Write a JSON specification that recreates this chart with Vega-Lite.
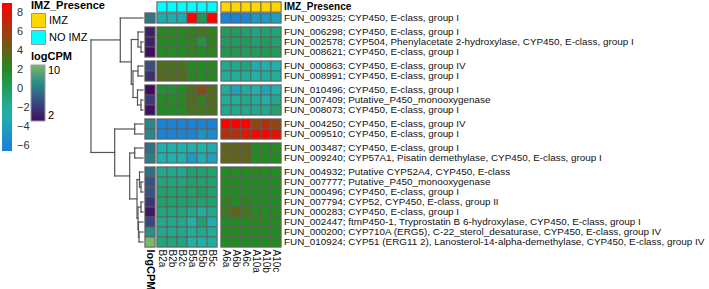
{
  "$schema": "https://vega.github.io/schema/vega-lite/v6.json",
  "width": 709,
  "height": 289,
  "padding": 0,
  "autosize": {"type": "none"},
  "config": {"font": "Liberation Sans", "view": {"stroke": null}},
  "datasets": {
    "genes": [
      {"id": "FUN_009325; CYP450, E-class, group I", "ord": 0, "grp": 0, "logCPM": 6.5, "B2a": -3, "B2b": -3, "B2c": -3, "B5a": 8.8, "B5b": 0.5, "B5c": 8.8, "A6a": -6.3, "A6b": -6.3, "A6c": -6, "A10a": -4.5, "A10b": -4.5, "A10c": -4},
      {"id": "FUN_006298; CYP450, E-class, group I", "ord": 1, "grp": 1, "logCPM": 2.8, "B2a": 2.2, "B2b": 2.2, "B2c": 2.2, "B5a": 2.5, "B5b": 3, "B5c": 2.5, "A6a": 0, "A6b": 0, "A6c": -0.5, "A10a": -1, "A10b": -0.5, "A10c": -1},
      {"id": "FUN_002578; CYP504, Phenylacetate 2-hydroxylase, CYP450, E-class, group I", "ord": 2, "grp": 1, "logCPM": 3, "B2a": 2, "B2b": 2, "B2c": 2, "B5a": 2.5, "B5b": 1, "B5c": 2.5, "A6a": 0, "A6b": 0, "A6c": 0, "A10a": -0.5, "A10b": 0, "A10c": -0.5},
      {"id": "FUN_008621; CYP450, E-class, group I", "ord": 3, "grp": 1, "logCPM": 2, "B2a": 2, "B2b": 2, "B2c": 2, "B5a": 2.5, "B5b": 2, "B5c": 2.5, "A6a": 0.5, "A6b": 0.5, "A6c": 0, "A10a": 0, "A10b": 0.5, "A10c": 0},
      {"id": "FUN_000863; CYP450, E-class, group IV", "ord": 4, "grp": 2, "logCPM": 4.8, "B2a": 3.3, "B2b": 3.3, "B2c": 3.3, "B5a": 2, "B5b": 2, "B5c": 2.3, "A6a": -1.5, "A6b": -1.5, "A6c": -1, "A10a": -3, "A10b": -2.5, "A10c": -2.5},
      {"id": "FUN_008991; CYP450, E-class, group I", "ord": 5, "grp": 2, "logCPM": 3.5, "B2a": 3.7, "B2b": 3.5, "B2c": 3.5, "B5a": 2.3, "B5b": 2, "B5c": 2.2, "A6a": -2, "A6b": -2, "A6c": -2, "A10a": -2.5, "A10b": -2, "A10c": -2},
      {"id": "FUN_010496; CYP450, E-class, group I", "ord": 6, "grp": 3, "logCPM": 2, "B2a": 1.5, "B2b": 1.5, "B2c": 2, "B5a": 3.5, "B5b": 5, "B5c": 3.5, "A6a": -2, "A6b": -3.8, "A6c": -2, "A10a": -2.5, "A10b": -3.5, "A10c": -2.5},
      {"id": "FUN_007409; Putative_P450_monooxygenase", "ord": 7, "grp": 3, "logCPM": 4, "B2a": 2, "B2b": 2, "B2c": 2.3, "B5a": 3.5, "B5b": 2.5, "B5c": 3.5, "A6a": -2, "A6b": -2, "A6c": -1.5, "A10a": -2, "A10b": -2.3, "A10c": -1.5},
      {"id": "FUN_008073; CYP450, E-class, group I", "ord": 8, "grp": 3, "logCPM": 2.2, "B2a": 2, "B2b": 2, "B2c": 2, "B5a": 3.3, "B5b": 3, "B5c": 3.3, "A6a": -1.5, "A6b": -1.5, "A6c": -1.5, "A10a": -1.5, "A10b": -1.5, "A10c": -0.5},
      {"id": "FUN_004250; CYP450, E-class, group IV", "ord": 9, "grp": 4, "logCPM": 7.2, "B2a": -6.3, "B2b": -6.3, "B2c": -6, "B5a": -6, "B5b": -6, "B5c": -6.3, "A6a": 9, "A6b": 9, "A6c": 9, "A10a": 5.5, "A10b": 6.5, "A10c": 5.5},
      {"id": "FUN_009510; CYP450, E-class, group I", "ord": 10, "grp": 4, "logCPM": 7.2, "B2a": -6.3, "B2b": -6.3, "B2c": -6, "B5a": -6, "B5b": -5, "B5c": -5.5, "A6a": 6.5, "A6b": 6.5, "A6c": 7.5, "A10a": 8.5, "A10b": 8.5, "A10c": 8},
      {"id": "FUN_003487; CYP450, E-class, group I", "ord": 11, "grp": 5, "logCPM": 6.3, "B2a": -2.5, "B2b": -2.5, "B2c": -2.5, "B5a": -2.5, "B5b": -2.5, "B5c": -3, "A6a": 4, "A6b": 4, "A6c": 4, "A10a": 2, "A10b": 2, "A10c": 2},
      {"id": "FUN_009240; CYP57A1, Pisatin demethylase, CYP450, E-class, group I", "ord": 12, "grp": 5, "logCPM": 6.8, "B2a": -2.5, "B2b": -2.5, "B2c": -2.5, "B5a": -4.5, "B5b": -3, "B5c": -4, "A6a": 4, "A6b": 4, "A6c": 4, "A10a": 2, "A10b": 2, "A10c": 2},
      {"id": "FUN_004932; Putative CYP52A4, CYP450, E-class", "ord": 13, "grp": 6, "logCPM": 6.2, "B2a": -1.5, "B2b": -1.5, "B2c": -1.5, "B5a": -0.5, "B5b": -0.5, "B5c": -0.5, "A6a": 2, "A6b": 2, "A6c": 2, "A10a": 2.2, "A10b": 2, "A10c": 2},
      {"id": "FUN_007777; Putative_P450_monooxygenase", "ord": 14, "grp": 6, "logCPM": 5, "B2a": -1, "B2b": -1, "B2c": -1, "B5a": -0.5, "B5b": -0.5, "B5c": -0.5, "A6a": 2, "A6b": 2, "A6c": 2, "A10a": 2, "A10b": 2, "A10c": 2},
      {"id": "FUN_000496; CYP450, E-class, group I", "ord": 15, "grp": 6, "logCPM": 5, "B2a": -0.5, "B2b": -0.5, "B2c": -0.5, "B5a": -0.5, "B5b": 0, "B5c": -0.5, "A6a": 2, "A6b": 2, "A6c": 2, "A10a": 2, "A10b": 2, "A10c": 2},
      {"id": "FUN_007794; CYP52, CYP450, E-class, group II", "ord": 16, "grp": 6, "logCPM": 3.8, "B2a": -0.5, "B2b": -0.5, "B2c": -0.5, "B5a": -0.5, "B5b": -0.5, "B5c": -0.5, "A6a": 2.5, "A6b": 2, "A6c": 2.5, "A10a": 2, "A10b": 2, "A10c": 2},
      {"id": "FUN_000283; CYP450, E-class, group I", "ord": 17, "grp": 6, "logCPM": 2.5, "B2a": -1, "B2b": -1, "B2c": -1, "B5a": -1.5, "B5b": -2, "B5c": -1.5, "A6a": 3, "A6b": 4, "A6c": 3, "A10a": 2.2, "A10b": 2, "A10c": 2.2},
      {"id": "FUN_002447; ftmP450-1, Tryprostatin B 6-hydroxylase, CYP450, E-class, group I", "ord": 18, "grp": 6, "logCPM": 4.5, "B2a": -1.5, "B2b": -1.5, "B2c": -1.5, "B5a": -2.5, "B5b": -0.5, "B5c": -2.8, "A6a": 2, "A6b": 2, "A6c": 2, "A10a": 2.3, "A10b": 2, "A10c": 2},
      {"id": "FUN_000200; CYP710A (ERG5), C-22_sterol_desaturase, CYP450, E-class, group IV", "ord": 19, "grp": 6, "logCPM": 7.5, "B2a": -1.5, "B2b": -1.5, "B2c": -1.5, "B5a": -2, "B5b": -1.5, "B5c": -2, "A6a": 2, "A6b": 2, "A6c": 2, "A10a": 2, "A10b": 2, "A10c": 2},
      {"id": "FUN_010924; CYP51 (ERG11 2), Lanosterol-14-alpha-demethylase, CYP450, E-class, group IV", "ord": 20, "grp": 6, "logCPM": 10, "B2a": -1, "B2b": -1, "B2c": -1, "B5a": -2.3, "B5b": -2.3, "B5c": -2, "A6a": 2, "A6b": 2, "A6c": 2, "A10a": 2, "A10b": 2, "A10c": 2}
    ],
    "cols": [
      {"col": "B2a", "cx": 0, "imz": "NO IMZ"},
      {"col": "B2b", "cx": 1, "imz": "NO IMZ"},
      {"col": "B2c", "cx": 2, "imz": "NO IMZ"},
      {"col": "B5a", "cx": 3, "imz": "NO IMZ"},
      {"col": "B5b", "cx": 4, "imz": "NO IMZ"},
      {"col": "B5c", "cx": 5, "imz": "NO IMZ"},
      {"col": "A6a", "cx": 6, "imz": "IMZ"},
      {"col": "A6b", "cx": 7, "imz": "IMZ"},
      {"col": "A6c", "cx": 8, "imz": "IMZ"},
      {"col": "A10a", "cx": 9, "imz": "IMZ"},
      {"col": "A10b", "cx": 10, "imz": "IMZ"},
      {"col": "A10c", "cx": 11, "imz": "IMZ"}
    ],
    "dendro": [
      {"h1": 0.2, "h2": 0.2, "y1": 4.2, "y2": 5.2}, {"h1": 0.2, "h2": 0, "y1": 4.2, "y2": 4.2}, {"h1": 0.2, "h2": 0, "y1": 5.2, "y2": 5.2},
      {"h1": 0.5, "h2": 0.5, "y1": 3.2, "y2": 4.7}, {"h1": 0.5, "h2": 0, "y1": 3.2, "y2": 3.2}, {"h1": 0.5, "h2": 0.2, "y1": 4.7, "y2": 4.7},
      {"h1": 0.5, "h2": 0.5, "y1": 6.6, "y2": 7.6}, {"h1": 0.5, "h2": 0, "y1": 6.6, "y2": 6.6}, {"h1": 0.5, "h2": 0, "y1": 7.6, "y2": 7.6},
      {"h1": 0.2, "h2": 0.2, "y1": 10.0, "y2": 11.0}, {"h1": 0.2, "h2": 0, "y1": 10.0, "y2": 10.0}, {"h1": 0.2, "h2": 0, "y1": 11.0, "y2": 11.0},
      {"h1": 0.55, "h2": 0.55, "y1": 9.0, "y2": 10.5}, {"h1": 0.55, "h2": 0, "y1": 9.0, "y2": 9.0}, {"h1": 0.55, "h2": 0.2, "y1": 10.5, "y2": 10.5},
      {"h1": 1.0, "h2": 1.0, "y1": 7.1, "y2": 9.75}, {"h1": 1.0, "h2": 0.5, "y1": 7.1, "y2": 7.1}, {"h1": 1.0, "h2": 0.55, "y1": 9.75, "y2": 9.75},
      {"h1": 1.17, "h2": 1.17, "y1": 3.95, "y2": 8.425}, {"h1": 1.17, "h2": 0.5, "y1": 3.95, "y2": 3.95}, {"h1": 1.17, "h2": 1.0, "y1": 8.425, "y2": 8.425},
      {"h1": 2.27, "h2": 2.27, "y1": 1.8, "y2": 6.1875}, {"h1": 2.27, "h2": 0, "y1": 1.8, "y2": 1.8}, {"h1": 2.27, "h2": 1.17, "y1": 6.1875, "y2": 6.1875},
      {"h1": 0.83, "h2": 0.83, "y1": 12.4, "y2": 13.4}, {"h1": 0.83, "h2": 0, "y1": 12.4, "y2": 12.4}, {"h1": 0.83, "h2": 0, "y1": 13.4, "y2": 13.4},
      {"h1": 0.83, "h2": 0.83, "y1": 14.8, "y2": 15.8}, {"h1": 0.83, "h2": 0, "y1": 14.8, "y2": 14.8}, {"h1": 0.83, "h2": 0, "y1": 15.8, "y2": 15.8},
      {"h1": 0.2, "h2": 0.2, "y1": 18.2, "y2": 19.2}, {"h1": 0.2, "h2": 0, "y1": 18.2, "y2": 18.2}, {"h1": 0.2, "h2": 0, "y1": 19.2, "y2": 19.2},
      {"h1": 0.35, "h2": 0.35, "y1": 17.2, "y2": 18.7}, {"h1": 0.35, "h2": 0, "y1": 17.2, "y2": 17.2}, {"h1": 0.35, "h2": 0.2, "y1": 18.7, "y2": 18.7},
      {"h1": 0.2, "h2": 0.2, "y1": 20.2, "y2": 21.2}, {"h1": 0.2, "h2": 0, "y1": 20.2, "y2": 20.2}, {"h1": 0.2, "h2": 0, "y1": 21.2, "y2": 21.2},
      {"h1": 0.4, "h2": 0.4, "y1": 23.2, "y2": 24.2}, {"h1": 0.4, "h2": 0, "y1": 23.2, "y2": 23.2}, {"h1": 0.4, "h2": 0, "y1": 24.2, "y2": 24.2},
      {"h1": 0.45, "h2": 0.45, "y1": 22.2, "y2": 23.7}, {"h1": 0.45, "h2": 0, "y1": 22.2, "y2": 22.2}, {"h1": 0.45, "h2": 0.4, "y1": 23.7, "y2": 23.7},
      {"h1": 0.5, "h2": 0.5, "y1": 20.7, "y2": 22.95}, {"h1": 0.5, "h2": 0.2, "y1": 20.7, "y2": 20.7}, {"h1": 0.5, "h2": 0.45, "y1": 22.95, "y2": 22.95},
      {"h1": 0.6, "h2": 0.6, "y1": 17.95, "y2": 21.825}, {"h1": 0.6, "h2": 0.35, "y1": 17.95, "y2": 17.95}, {"h1": 0.6, "h2": 0.5, "y1": 21.825, "y2": 21.825},
      {"h1": 1.33, "h2": 1.33, "y1": 15.3, "y2": 19.8875}, {"h1": 1.33, "h2": 0.83, "y1": 15.3, "y2": 15.3}, {"h1": 1.33, "h2": 0.6, "y1": 19.8875, "y2": 19.8875},
      {"h1": 2.83, "h2": 2.83, "y1": 12.9, "y2": 17.594}, {"h1": 2.83, "h2": 0.83, "y1": 12.9, "y2": 12.9}, {"h1": 2.83, "h2": 1.33, "y1": 17.594, "y2": 17.594},
      {"h1": 5.2, "h2": 5.2, "y1": 3.994, "y2": 15.247}, {"h1": 5.2, "h2": 2.27, "y1": 3.994, "y2": 3.994}, {"h1": 5.2, "h2": 2.83, "y1": 15.247, "y2": 15.247}
    ]
  },
  "layer": [
    {
      "data": {"name": "dendro"},
      "mark": {"type": "rule", "color": "#555555", "strokeWidth": 1.2, "strokeCap": "square"},
      "encoding": {
        "x": {"field": "h1", "type": "quantitative", "scale": {"domain": [-56.6, 14.3], "reverse": true, "nice": false, "zero": false}, "axis": null},
        "x2": {"field": "h2"},
        "y": {"field": "y1", "type": "quantitative", "scale": {"domain": [0, 28.9], "reverse": true, "nice": false, "zero": false}, "axis": null},
        "y2": {"field": "y2"}
      }
    },
    {
      "layer": [
        {
          "data": {"name": "genes"},
          "transform": [
            {"fold": ["B2a", "B2b", "B2c", "B5a", "B5b", "B5c", "A6a", "A6b", "A6c", "A10a", "A10b", "A10c"], "as": ["col", "value"]},
            {"lookup": "col", "from": {"data": {"name": "cols"}, "key": "col", "fields": ["cx"]}},
            {"calculate": "datum.cx + (datum.cx >= 6 ? 1.6 : 1.2)", "as": "x1"},
            {"calculate": "datum.x1 + 1", "as": "x2"},
            {"calculate": "1.3 + datum.ord + 0.4 * datum.grp", "as": "y1"},
            {"calculate": "datum.y1 + 1", "as": "y2"}
          ],
          "mark": {"type": "rect", "fill": "#bdbdbd", "xOffset": -1, "x2Offset": 1, "yOffset": -1, "y2Offset": 1},
          "encoding": {
            "x": {"field": "x1", "type": "quantitative", "scale": {"domain": [-14.5, 56.4], "nice": false, "zero": false}, "axis": null},
            "x2": {"field": "x2"},
            "y": {"field": "y1", "type": "quantitative", "scale": {"domain": [0, 28.9], "reverse": true, "nice": false, "zero": false}, "axis": null},
            "y2": {"field": "y2"}
          }
        },
        {
          "data": {"name": "genes"},
          "transform": [
            {"calculate": "1.3 + datum.ord + 0.4 * datum.grp", "as": "y1"},
            {"calculate": "datum.y1 + 1", "as": "y2"}
          ],
          "mark": {"type": "rect", "fill": "#bdbdbd", "xOffset": -1, "x2Offset": 1, "yOffset": -1, "y2Offset": 1},
          "encoding": {
            "x": {"datum": 0, "type": "quantitative", "scale": {"domain": [-14.5, 56.4], "nice": false, "zero": false}, "axis": null},
            "x2": {"datum": 1},
            "y": {"field": "y1", "type": "quantitative", "scale": {"domain": [0, 28.9], "reverse": true, "nice": false, "zero": false}, "axis": null},
            "y2": {"field": "y2"}
          }
        },
        {
          "data": {"name": "cols"},
          "transform": [
            {"calculate": "datum.cx + (datum.cx >= 6 ? 1.6 : 1.2)", "as": "x1"},
            {"calculate": "datum.x1 + 1", "as": "x2"}
          ],
          "mark": {"type": "rect", "fill": "#bdbdbd", "xOffset": -1, "x2Offset": 1, "yOffset": -1, "y2Offset": 1},
          "encoding": {
            "x": {"field": "x1", "type": "quantitative", "scale": {"domain": [-14.5, 56.4], "nice": false, "zero": false}, "axis": null},
            "x2": {"field": "x2"},
            "y": {"datum": 0.2, "type": "quantitative", "scale": {"domain": [0, 28.9], "reverse": true, "nice": false, "zero": false}, "axis": null},
            "y2": {"datum": 1.2}
          }
        },
        {
          "data": {"name": "genes"},
          "transform": [
            {"fold": ["B2a", "B2b", "B2c", "B5a", "B5b", "B5c", "A6a", "A6b", "A6c", "A10a", "A10b", "A10c"], "as": ["col", "value"]},
            {"lookup": "col", "from": {"data": {"name": "cols"}, "key": "col", "fields": ["cx"]}},
            {"calculate": "datum.cx + (datum.cx >= 6 ? 1.6 : 1.2)", "as": "x1"},
            {"calculate": "datum.x1 + 1", "as": "x2"},
            {"calculate": "1.3 + datum.ord + 0.4 * datum.grp", "as": "y1"},
            {"calculate": "datum.y1 + 1", "as": "y2"}
          ],
          "mark": {"type": "rect", "stroke": "#5e5e5e", "strokeWidth": 0.8},
          "encoding": {
            "x": {"field": "x1", "type": "quantitative", "scale": {"domain": [-14.5, 56.4], "nice": false, "zero": false}, "axis": null},
            "x2": {"field": "x2"},
            "y": {"field": "y1", "type": "quantitative", "scale": {"domain": [0, 28.9], "reverse": true, "nice": false, "zero": false}, "axis": null},
            "y2": {"field": "y2"},
            "color": {
              "field": "value", "type": "quantitative",
              "scale": {"domain": [-6.5, -2.5, 2, 9], "range": ["#1a7fd9", "#20b2aa", "#228b22", "#ff0000"], "interpolate": "rgb"},
              "legend": {"orient": "none", "legendX": 2, "legendY": 3, "direction": "vertical", "title": null, "gradientLength": 148, "gradientThickness": 10, "gradientStrokeWidth": 0, "values": [-6, -4, -2, 0, 2, 4, 6, 8], "labelFontSize": 11, "labelColor": "#333333", "labelOffset": 5}
            }
          }
        },
        {
          "data": {"name": "genes"},
          "transform": [
            {"calculate": "1.3 + datum.ord + 0.4 * datum.grp", "as": "y1"},
            {"calculate": "datum.y1 + 1", "as": "y2"}
          ],
          "mark": {"type": "rect", "stroke": "#5e5e5e", "strokeWidth": 0.8},
          "encoding": {
            "x": {"datum": 0, "type": "quantitative", "scale": {"domain": [-14.5, 56.4], "nice": false, "zero": false}, "axis": null},
            "x2": {"datum": 1},
            "y": {"field": "y1", "type": "quantitative", "scale": {"domain": [0, 28.9], "reverse": true, "nice": false, "zero": false}, "axis": null},
            "y2": {"field": "y2"},
            "color": {
              "field": "logCPM", "type": "quantitative",
              "scale": {"domain": [2, 4.667, 7.333, 10], "range": ["#420c5c", "#3a4a82", "#2a8a8a", "#7ab865"], "interpolate": "rgb"},
              "legend": {"orient": "none", "legendX": 31, "legendY": 51, "direction": "vertical", "title": "logCPM", "titleFontSize": 11, "titleFontWeight": "bold", "titleColor": "#000000", "titlePadding": 3, "gradientLength": 56, "gradientThickness": 14, "gradientStrokeColor": "#999999", "gradientStrokeWidth": 1, "values": [2, 10], "labelFontSize": 11, "labelColor": "#000000", "labelOffset": 3}
            }
          }
        },
        {
          "data": {"name": "cols"},
          "transform": [
            {"calculate": "datum.cx + (datum.cx >= 6 ? 1.6 : 1.2)", "as": "x1"},
            {"calculate": "datum.x1 + 1", "as": "x2"}
          ],
          "mark": {"type": "rect", "stroke": "#5e5e5e", "strokeWidth": 0.8},
          "encoding": {
            "x": {"field": "x1", "type": "quantitative", "scale": {"domain": [-14.5, 56.4], "nice": false, "zero": false}, "axis": null},
            "x2": {"field": "x2"},
            "y": {"datum": 0.2, "type": "quantitative", "scale": {"domain": [0, 28.9], "reverse": true, "nice": false, "zero": false}, "axis": null},
            "y2": {"datum": 1.2},
            "color": {
              "field": "imz", "type": "nominal",
              "scale": {"domain": ["IMZ", "NO IMZ"], "range": ["#ffd700", "#00ffff"]},
              "legend": {"orient": "none", "legendX": 31, "legendY": 0, "title": "IMZ_Presence", "titleFontSize": 11, "titleFontWeight": "bold", "titleColor": "#000000", "titlePadding": 2, "symbolType": "square", "symbolSize": 196, "symbolStrokeColor": "#999999", "symbolStrokeWidth": 1, "symbolOpacity": 1, "rowPadding": -8, "labelFontSize": 11, "labelColor": "#000000", "labelOffset": 3}
            }
          }
        },
        {
          "data": {"name": "genes"},
          "transform": [
            {"calculate": "1.8 + datum.ord + 0.4 * datum.grp", "as": "yc"}
          ],
          "mark": {"type": "text", "align": "left", "baseline": "middle", "fontSize": 9.9, "color": "#111111"},
          "encoding": {
            "x": {"datum": 13.9, "type": "quantitative", "scale": {"domain": [-14.5, 56.4], "nice": false, "zero": false}, "axis": null},
            "y": {"field": "yc", "type": "quantitative", "scale": {"domain": [0, 28.9], "reverse": true, "nice": false, "zero": false}, "axis": null},
            "text": {"field": "id"}
          }
        },
        {
          "data": {"name": "cols"},
          "transform": [
            {"calculate": "datum.cx + (datum.cx >= 6 ? 1.6 : 1.2) + 0.5", "as": "xc"}
          ],
          "mark": {"type": "text", "align": "left", "baseline": "middle", "angle": 90, "fontSize": 10, "color": "#111111"},
          "encoding": {
            "x": {"field": "xc", "type": "quantitative", "scale": {"domain": [-14.5, 56.4], "nice": false, "zero": false}, "axis": null},
            "y": {"datum": 24.95, "type": "quantitative", "scale": {"domain": [0, 28.9], "reverse": true, "nice": false, "zero": false}, "axis": null},
            "text": {"field": "col"}
          }
        },
        {
          "data": {"values": [{"t": "logCPM"}, {"t": "IMZ_Presence"}]},
          "transform": [{"filter": "datum.t == 'logCPM'"}],
          "mark": {"type": "text", "align": "left", "baseline": "middle", "angle": 90, "fontSize": 11, "fontWeight": "bold", "color": "#000000"},
          "encoding": {
            "x": {"datum": 0.5, "type": "quantitative", "scale": {"domain": [-14.5, 56.4], "nice": false, "zero": false}, "axis": null},
            "y": {"datum": 24.95, "type": "quantitative", "scale": {"domain": [0, 28.9], "reverse": true, "nice": false, "zero": false}, "axis": null},
            "text": {"field": "t"}
          }
        },
        {
          "data": {"values": [{"t": "logCPM"}, {"t": "IMZ_Presence"}]},
          "transform": [{"filter": "datum.t == 'IMZ_Presence'"}],
          "mark": {"type": "text", "align": "left", "baseline": "middle", "fontSize": 10, "fontWeight": "bold", "color": "#000000"},
          "encoding": {
            "x": {"datum": 13.9, "type": "quantitative", "scale": {"domain": [-14.5, 56.4], "nice": false, "zero": false}, "axis": null},
            "y": {"datum": 0.7, "type": "quantitative", "scale": {"domain": [0, 28.9], "reverse": true, "nice": false, "zero": false}, "axis": null},
            "text": {"field": "t"}
          }
        }
      ],
      "resolve": {"scale": {"color": "independent"}}
    }
  ],
  "resolve": {"scale": {"x": "independent", "color": "independent"}}
}
